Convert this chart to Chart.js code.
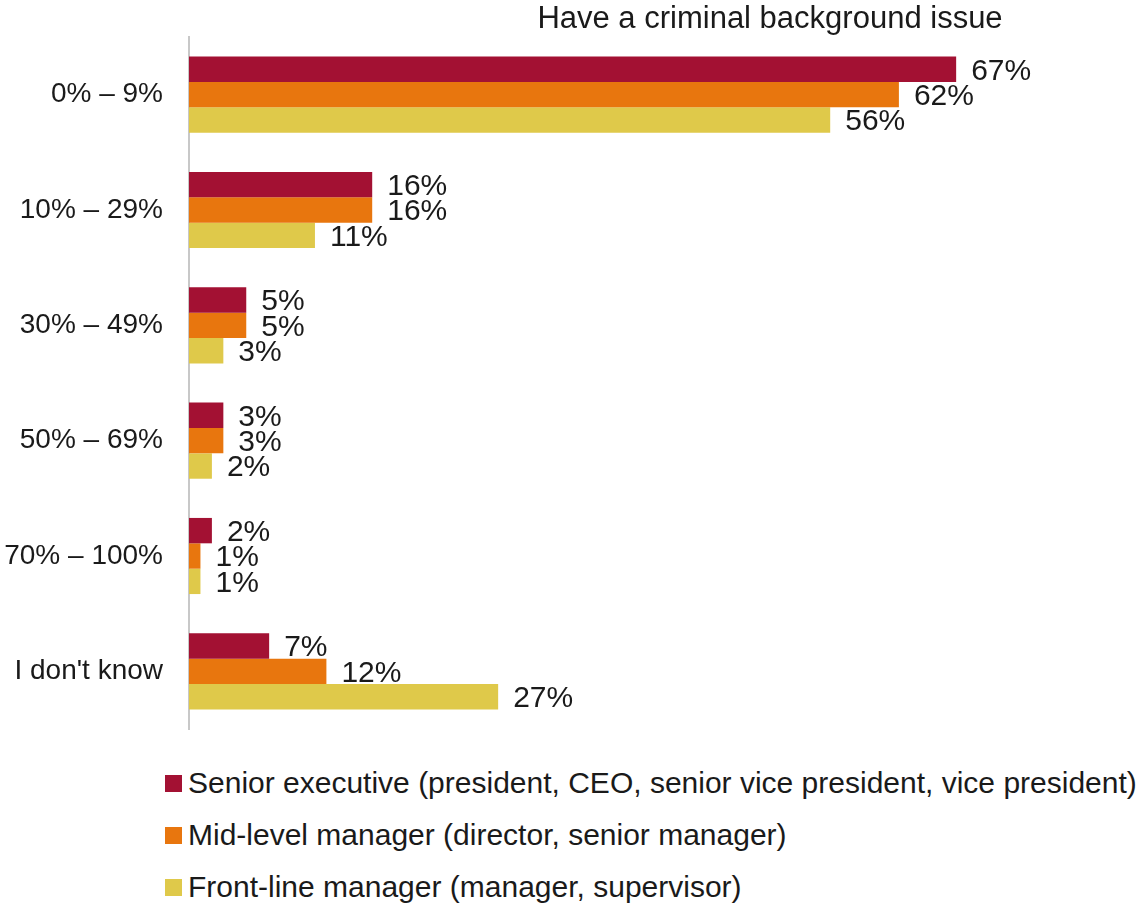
<!DOCTYPE html>
<html><head><meta charset="utf-8">
<script src="https://cdn.jsdelivr.net/npm/chart.js@4"></script>
<style>
body{margin:0;background:#fff;width:1141px;height:903px;overflow:hidden;font-family:'Liberation Sans',Arial,sans-serif;}
#c{position:absolute;left:0;top:0;}
#legend{position:absolute;left:165px;top:757px;}
.item{display:flex;align-items:center;height:52px;font-size:30px;color:#1a1a1a;white-space:nowrap;}
.box{width:17px;height:17px;margin-right:6px;}
</style></head>
<body>
<canvas id="c" width="1141" height="742" style="width:1141px;height:742px"></canvas>
<div id="legend"></div>
<script>
const titleText = "Have a criminal background issue";
const categories = ["0% – 9%", "10% – 29%", "30% – 49%", "50% – 69%", "70% – 100%", "I don't know"];
const seriesNames = [
  "Senior executive (president, CEO, senior vice president, vice president)",
  "Mid-level manager (director, senior manager)",
  "Front-line manager (manager, supervisor)"
];
const seniorExec = [67, 16, 5, 3, 2, 7];
const midLevel = [62, 16, 5, 3, 1, 12];
const frontLine = [56, 11, 3, 2, 1, 27];
const colors = ["#A31133", "#E8760E", "#DFC94A"];
const FONT = "'Liberation Sans',Arial,sans-serif";

const valueLabels = {
  id: 'valueLabels',
  afterDatasetsDraw(chart) {
    const ctx = chart.ctx;
    ctx.save();
    ctx.font = "30px " + FONT;
    ctx.fillStyle = "#1a1a1a";
    ctx.textBaseline = "middle";
    ctx.textAlign = "left";
    chart.data.datasets.forEach((ds, di) => {
      const meta = chart.getDatasetMeta(di);
      meta.data.forEach((bar, i) => {
        ctx.fillText(ds.data[i] + "%", bar.x + 15, bar.y + 2);
      });
    });
    ctx.restore();
  }
};
const topTitle = {
  id: 'topTitle',
  afterDraw(chart) {
    const ctx = chart.ctx;
    ctx.save();
    ctx.font = "31px " + FONT;
    ctx.fillStyle = "#1a1a1a";
    ctx.textAlign = "center";
    ctx.textBaseline = "middle";
    ctx.fillText(titleText, 770, 19);
    ctx.restore();
  }
};

const datasets = [seniorExec, midLevel, frontLine].map((d, i) => ({
  label: seriesNames[i], data: d, backgroundColor: colors[i],
  barPercentage: 1.0, categoryPercentage: 0.66
}));

new Chart(document.getElementById('c'), {
  type: 'bar',
  data: { labels: categories, datasets },
  options: {
    indexAxis: 'y',
    responsive: false,
    animation: false,
    devicePixelRatio: 1,
    layout: { padding: { top: 37, right: 36, bottom: 13, left: 0 } },
    plugins: { legend: { display: false }, title: { display: false }, tooltip: { enabled: false } },
    scales: {
      x: { display: false, min: 0, max: 80 },
      y: {
        afterFit(s) { s.width = 189; s.paddingTop = 0; s.paddingBottom = 0; },
        grid: { display: false, drawTicks: false },
        border: { display: true, color: '#c8c8c8', width: 2 },
        ticks: { color: '#1a1a1a', font: { family: FONT, size: 28 }, padding: 26 }
      }
    }
  },
  plugins: [valueLabels, topTitle]
});

const lg = document.getElementById('legend');
seriesNames.forEach((n, i) => {
  const it = document.createElement('div'); it.className = 'item';
  const b = document.createElement('div'); b.className = 'box'; b.style.background = colors[i];
  const t = document.createElement('span'); t.textContent = n;
  it.appendChild(b); it.appendChild(t); lg.appendChild(it);
});
</script>
</body></html>
